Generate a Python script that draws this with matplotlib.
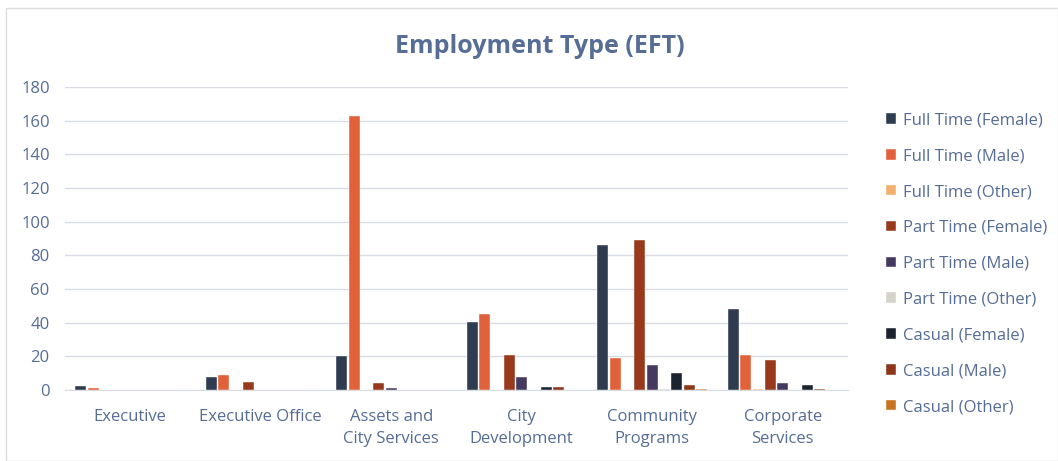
import numpy as np
import matplotlib.pyplot as plt
from matplotlib.patches import Rectangle

plt.rcParams['font.family'] = ['Open Sans', 'DejaVu Sans']

categories = ['Executive', 'Executive Office', 'Assets and\nCity Services',
              'City\nDevelopment', 'Community\nPrograms', 'Corporate\nServices']
series = ['Full Time (Female)', 'Full Time (Male)', 'Full Time (Other)',
          'Part Time (Female)', 'Part Time (Male)', 'Part Time (Other)',
          'Casual (Female)', 'Casual (Male)', 'Casual (Other)']

ft_female = [2.6, 7.5, 20, 40.5, 86, 48]
ft_male = [1.4, 8.7, 163, 45, 19, 21]
ft_other = [0, 0, 0, 0, 0, 0.5]
pt_female = [0, 4.7, 4, 21, 89, 18]
pt_male = [0, 0, 1, 7.5, 15, 4]
pt_other = [0, 0, 0.3, 0, 0.5, 0]
cas_female = [0, 0, 0, 2, 10, 3]
cas_male = [0, 0, 0.3, 2, 3, 0.5]
cas_other = [0, 0, 0, 0, 0.5, 0]

values = [ft_female, ft_male, ft_other, pt_female, pt_male, pt_other,
          cas_female, cas_male, cas_other]
colors = ['#2f3b4f', '#e0613a', '#f2b06c', '#98391c', '#45395f',
          '#d5d2ca', '#1c2331', '#8c3719', '#c8731f']

txt = '#566d96'

fig = plt.figure(figsize=(10.58, 4.61), dpi=100)
fig.patches.append(Rectangle((6/1058, 0), 1 - 6/1058, 1 - 8/461, transform=fig.transFigure,
                             fill=False, edgecolor='#dcdcdc', lw=1))
ax = fig.add_axes([0.0614, 0.154, 0.74, 0.657])

x = np.arange(len(categories))
n = len(series)
group = 0.85
w = group / n
for i in range(n):
    pos = x - group / 2 + w * (i + 0.5)
    ax.bar(pos, values[i], width=w * 0.88, color=colors[i], label=series[i],
           edgecolor='white', linewidth=0.3, zorder=3)

ax.set_xlim(-0.5, len(categories) - 0.5)
ax.set_ylim(0, 180)
ax.set_yticks(range(0, 181, 20))
ax.set_xticks(x)
ax.set_xticklabels(categories, fontsize=12, color=txt, linespacing=1.5)
ax.tick_params(axis='y', labelsize=12, labelcolor=txt, length=0, pad=11)
ax.tick_params(axis='x', length=0, pad=14)
ax.grid(axis='y', color='#d9dce3', lw=1, zorder=0)
for s in ['top', 'right', 'left']:
    ax.spines[s].set_visible(False)
ax.spines['bottom'].set_color('#d9dce3')

fig.text(0.51, 0.9, 'Employment Type (EFT)', ha='center', va='center',
         fontsize=18, fontweight='bold', color=txt)

fig.legend(loc='center left', bbox_to_anchor=(0.823, 0.428), frameon=False,
           fontsize=12, labelcolor=txt, handlelength=0.6, handleheight=0.6,
           handletextpad=0.45, labelspacing=1.19)

fig.savefig('out.png', dpi=100, facecolor='white')
